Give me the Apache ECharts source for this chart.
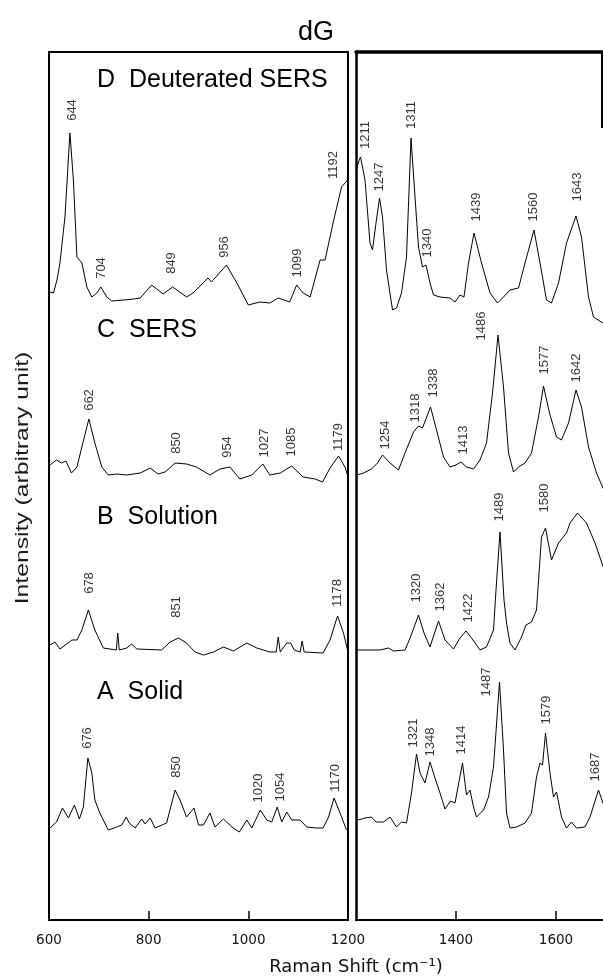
<!DOCTYPE html>
<html>
<head>
<meta charset="utf-8">
<script src="https://cdn.jsdelivr.net/npm/echarts@6/dist/echarts.min.js"></script>
<style>
html,body{margin:0;padding:0;background:#fff;}
#chart{width:603px;height:978px;}
</style>
</head>
<body>
<div id="chart"></div>
<script>
// ---- Spectra: [Raman shift (cm-1), intensity (arbitrary, stacked)] ----
const deutLow = [[602,628],[609,627],[616,640],[622,657],[632,703],[642,787],[649,740],[656,663],[666,657],[676,633],[686,623],[696,627],[704,633],[716,623],[726,619],[750,620],[770,621],[783,622],[806,635],[829,626],[848,633],[876,623],[889,627],[919,642],[926,638],[956,655],[977,637],[1000,615],[1023,618],[1043,617],[1060,622],[1083,618],[1097,635],[1110,627],[1124,623],[1144,660],[1154,660],[1170,697],[1187,733],[1196,738],[1199,740]];
const deutHigh = [[1200,748],[1205,758],[1209,763],[1218,740],[1228,677],[1233,670],[1240,697],[1247,722],[1253,703],[1261,650],[1273,610],[1281,612],[1291,627],[1301,663],[1310,782],[1318,723],[1325,673],[1333,653],[1340,655],[1348,637],[1355,625],[1368,623],[1388,622],[1398,618],[1408,625],[1416,623],[1425,657],[1436,687],[1451,657],[1468,627],[1483,617],[1495,623],[1508,630],[1525,632],[1538,657],[1556,690],[1568,657],[1581,620],[1591,617],[1605,637],[1621,677],[1640,704],[1651,683],[1665,623],[1675,603],[1700,595]];
const sersLow = [[602,455],[605,457],[615,460],[625,457],[634,459],[645,447],[656,453],[666,473],[680,501],[692,477],[706,453],[719,445],[736,446],[756,445],[783,447],[803,452],[819,446],[833,448],[853,457],[876,456],[896,453],[923,445],[943,451],[963,453],[983,441],[1007,445],[1029,456],[1043,445],[1064,447],[1087,454],[1110,443],[1134,441],[1149,438],[1164,452],[1181,464],[1194,453],[1199,445]];
const sersHigh = [[1201,445],[1215,447],[1231,451],[1243,457],[1253,465],[1268,457],[1285,450],[1298,467],[1315,488],[1325,494],[1333,492],[1349,513],[1361,490],[1375,463],[1388,453],[1400,455],[1410,458],[1421,453],[1435,451],[1448,460],[1461,477],[1473,527],[1484,585],[1495,533],[1505,467],[1515,448],[1525,453],[1538,457],[1551,467],[1565,503],[1575,534],[1587,507],[1601,483],[1611,480],[1625,497],[1640,530],[1651,513],[1665,473],[1681,447],[1700,425]];
const solnLow = [[602,275],[605,277],[612,278],[622,271],[646,280],[656,280],[666,290],[679,310],[692,290],[709,272],[735,270],[738,287],[741,270],[756,272],[766,276],[776,271],[826,270],[843,278],[860,282],[876,277],[893,268],[910,265],[930,268],[950,273],[970,269],[997,277],[1017,272],[1043,268],[1056,268],[1060,283],[1064,268],[1071,273],[1077,277],[1085,277],[1092,270],[1104,268],[1108,279],[1112,268],[1150,267],[1164,280],[1179,304],[1191,287],[1199,270]];
const solnHigh = [[1201,270],[1248,270],[1265,272],[1275,269],[1298,270],[1309,283],[1325,305],[1336,287],[1348,273],[1365,299],[1378,280],[1395,271],[1408,282],[1420,289],[1431,282],[1448,270],[1461,273],[1475,290],[1480,330],[1488,388],[1496,320],[1501,297],[1508,277],[1518,270],[1531,283],[1540,295],[1551,298],[1561,310],[1571,383],[1579,392],[1591,360],[1605,377],[1621,387],[1628,397],[1643,407],[1661,397],[1678,377],[1700,345]];
const solidLow = [[602,92],[605,93],[615,98],[627,112],[639,102],[651,115],[661,101],[669,113],[678,162],[686,147],[692,120],[702,107],[719,90],[736,93],[746,95],[755,103],[761,97],[773,92],[786,101],[793,96],[803,102],[813,92],[836,97],[853,130],[863,120],[876,103],[891,112],[900,95],[910,95],[923,107],[933,93],[950,101],[967,93],[982,88],[997,100],[1007,92],[1024,110],[1037,100],[1047,98],[1058,113],[1067,98],[1077,108],[1087,100],[1104,100],[1117,93],[1137,92],[1150,92],[1161,103],[1172,122],[1184,107],[1197,90]];
const solidHigh = [[1204,100],[1218,102],[1231,103],[1240,98],[1255,98],[1268,103],[1281,93],[1291,98],[1301,97],[1311,127],[1321,166],[1328,147],[1338,137],[1348,158],[1358,142],[1368,127],[1378,111],[1389,119],[1398,117],[1413,157],[1421,125],[1428,130],[1435,113],[1441,103],[1455,110],[1465,123],[1475,153],[1487,238],[1495,170],[1501,107],[1508,92],[1521,93],[1538,97],[1551,107],[1561,143],[1568,157],[1573,155],[1579,187],[1588,147],[1595,123],[1601,128],[1611,103],[1621,92],[1631,98],[1641,92],[1658,93],[1668,103],[1685,130],[1700,108]];

// ---- Peak annotations: [shift, intensity level, label] ----
const peaksLow = [
  [646,810,'644'],[706,652,'704'],[846,657,'849'],[953,673,'956'],[1099,657,'1099'],[1170,755,'1192'],
  [681,520,'662'],[856,477,'850'],[959,473,'954'],[1033,477,'1027'],[1087,478,'1085'],[1180,483,'1179'],
  [682,337,'678'],[856,313,'851'],[1179,327,'1178'],
  [678,182,'676'],[856,153,'850'],[1020,132,'1020'],[1064,133,'1054'],[1174,142,'1170']
];
const peaksHigh = [
  [1218,785,'1211'],[1246,743,'1247'],[1311,805,'1311'],[1342,677,'1340'],[1441,713,'1439'],[1554,713,'1560'],[1642,733,'1643'],
  [1258,485,'1254'],[1318,512,'1318'],[1354,537,'1338'],[1414,480,'1413'],[1451,594,'1486'],[1576,560,'1577'],[1641,552,'1642'],
  [1321,332,'1320'],[1368,323,'1362'],[1424,312,'1422'],[1486,413,'1489'],[1576,422,'1580'],
  [1315,187,'1321'],[1349,178,'1348'],[1411,180,'1414'],[1461,238,'1487'],[1580,210,'1579'],[1678,153,'1687']
];
const traceNames = ['D  Deuterated SERS','C  SERS','B  Solution','A  Solid'];
const lowTicks = [600, 800, 1000, 1200];
const highTicks = [1400, 1600];

const FONT = '"Liberation Sans", Arial, Helvetica, sans-serif';
const TICKFONT = '"DejaVu Sans", sans-serif';
const chart = echarts.init(document.getElementById('chart'), null, {renderer:'canvas'});

function lineSeries(data, idx){
  return {type:'line', data:data, xAxisIndex:idx, yAxisIndex:idx, symbol:'none', silent:true,
    lineStyle:{color:'#000', width:1}, animation:false, clip:true};
}
function peakSeries(data, idx){
  return {type:'scatter', data:data, xAxisIndex:idx, yAxisIndex:idx, symbolSize:1, silent:true,
    itemStyle:{color:'rgba(0,0,0,0)'}, animation:false,
    label:{show:true, formatter:p=>p.data[2], rotate:90, position:'inside', align:'center', verticalAlign:'middle',
      fontSize:13, color:'#000', fontFamily:FONT}};
}
const panelY = [80, 330, 517, 692];
const hidden = {axisLine:{show:false}, axisTick:{show:false}, axisLabel:{show:false}, splitLine:{show:false}};

const option = {
  animation:false,
  backgroundColor:'#fff',
  grid:[
    {left:49, top:52, width:299, height:868, show:true, borderColor:'#000', borderWidth:2, backgroundColor:'transparent', outerBoundsMode:'none'},
    {left:356, top:52, width:250, height:868, show:false, outerBoundsMode:'none'}
  ],
  xAxis:[
    {gridIndex:0, type:'value', min:600, max:1200, interval:200,
      axisLine:{show:false}, splitLine:{show:false},
      axisTick:{show:true, inside:true, length:9, lineStyle:{color:'#000', width:1.5}},
      axisLabel:{show:true, fontSize:13.5, color:'#111', fontFamily:TICKFONT, margin:13,
        formatter:v=>lowTicks.includes(v)?String(v):''}},
    {gridIndex:1, type:'value', min:1200, max:1700, interval:200,
      axisLine:{show:true, onZero:false, lineStyle:{color:'#000', width:2}}, splitLine:{show:false},
      axisTick:{show:true, inside:true, length:9, lineStyle:{color:'#000', width:1.5}},
      axisLabel:{show:true, fontSize:13.5, color:'#111', fontFamily:TICKFONT, margin:13, showMinLabel:false, showMaxLabel:false,
        formatter:v=>highTicks.includes(v)?String(v):''}},
    {gridIndex:1, type:'value', min:1200, max:1700, position:'top',
      axisLine:{show:true, onZero:false, lineStyle:{color:'#000', width:3.5}}, axisTick:{show:false}, axisLabel:{show:false}, splitLine:{show:false}}
  ],
  yAxis:[
    Object.assign({gridIndex:0, type:'value', min:0, max:868}, hidden),
    {gridIndex:1, type:'value', min:0, max:868, axisLine:{show:true, onZero:false, lineStyle:{color:'#000', width:2.5}},
      axisTick:{show:false}, axisLabel:{show:false}, splitLine:{show:false}}
  ],
  series:[
    lineSeries(deutLow,0), lineSeries(sersLow,0), lineSeries(solnLow,0), lineSeries(solidLow,0),
    lineSeries(deutHigh,1), lineSeries(sersHigh,1), lineSeries(solnHigh,1), lineSeries(solidHigh,1),
    peakSeries(peaksLow,0), peakSeries(peaksHigh,1)
  ],
  graphic:[
    {type:'text', x:316, y:33, style:{text:'dG', font:'27px '+FONT, fill:'#000', align:'center', verticalAlign:'middle'}},
    {type:'text', x:356, y:967, style:{text:'Raman Shift (cm\u207B\u00B9)', font:'18px '+TICKFONT, fill:'#111', align:'center', verticalAlign:'middle'}},
    {type:'text', x:22.5, y:478, rotation:Math.PI/2, scaleX:1.3, style:{text:'Intensity (arbitrary unit)', font:'19px '+FONT, fill:'#1a1a1a', align:'center', verticalAlign:'middle'}},
    {type:'line', shape:{x1:602, y1:52, x2:602, y2:128}, style:{stroke:'#000', lineWidth:2}}
  ].concat(traceNames.map((t,i)=>({type:'text', x:97, y:panelY[i], style:{text:t, font:'25px '+FONT, fill:'#000', align:'left', verticalAlign:'middle'}})))
};
chart.setOption(option);
</script>
</body>
</html>
